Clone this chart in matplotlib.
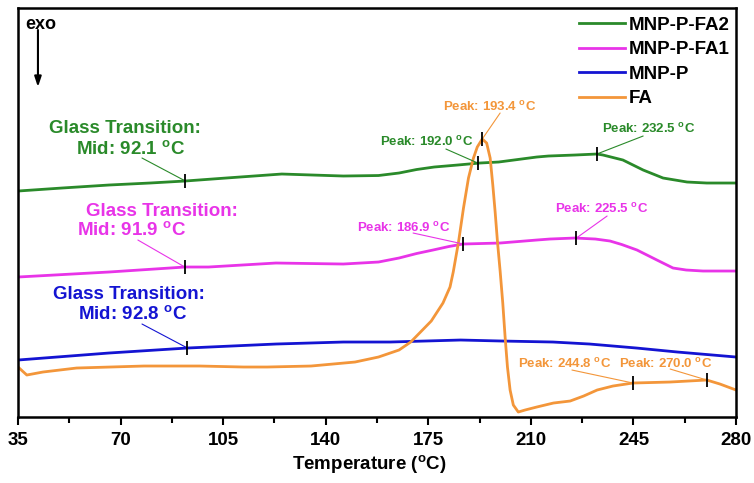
import matplotlib
matplotlib.use('Agg')
import matplotlib.pyplot as plt
import numpy as np

plt.rcParams['font.family'] = ['Liberation Sans', 'DejaVu Sans']
plt.rcParams['font.weight'] = 'bold'
plt.rcParams['mathtext.fontset'] = 'custom'
plt.rcParams['mathtext.rm'] = 'Liberation Sans:bold'
plt.rcParams['mathtext.bf'] = 'Liberation Sans:bold'

# heat flow in arbitrary units (exo down)
t_fa2 = [35, 50, 66, 80, 92, 106, 125, 146, 158, 165, 171, 177, 185, 192.6, 199, 212, 216, 225,
         232.5, 234.6, 241.4, 248.3, 255.1, 263.3, 270, 280]
hf_fa2 = [226, 229, 232, 234, 236, 239, 243, 241, 241.5, 244, 247.5, 250, 252, 254, 255, 260, 261,
          262, 263, 262, 257, 247, 239, 235, 234, 234]

t_fa1 = [35, 66, 92, 100, 123, 146, 158, 165, 171, 176.6, 182, 186.8, 199.5, 212, 216.5, 225,
         232, 237, 241, 246.2, 253, 258.5, 263, 268.7, 280]
hf_fa1 = [140, 145, 150, 150, 154, 153, 155, 159, 163.5, 167, 170.5, 173, 174, 177, 178, 179,
          178, 176, 172.5, 167, 157, 149, 147, 146, 146]

t_p = [35, 66, 92.8, 123, 146, 162, 186, 200, 217.5, 230, 246, 260, 280]
hf_p = [57, 64, 69, 73, 75, 75, 77, 76, 75, 73, 69, 65, 60]

t_fa = [35, 38, 43.5, 55, 78, 97, 112, 120, 135, 142.5, 150, 158, 165, 169, 172, 176, 180, 182.4,
        183.5, 185.3, 187.0, 188.7, 190.4, 191.7, 193.4, 194.9, 196.1, 197.0, 197.8, 198.6,
        199.5, 200.4, 201.2, 202.0, 202.9, 204.0, 205.7, 208.0, 212.0, 217.7, 223.4, 228, 232.6,
        238, 244.8, 257.5, 270, 274.5, 280]
hf_fa = [50, 42, 45, 49, 51, 51, 50, 50, 51, 53, 55, 60, 67, 75, 84, 96, 114, 130,
         145, 175, 209, 239, 259, 270, 278, 274, 259, 232, 205, 175,
         146, 114, 80, 50, 27, 12, 5, 7, 10, 14, 16, 21, 27,
         31, 34, 35, 37, 33, 27]

series = [
    ('MNP-P-FA2', t_fa2, hf_fa2, '#2a8a2a'),
    ('MNP-P-FA1', t_fa1, hf_fa1, '#e834e8'),
    ('MNP-P', t_p, hf_p, '#1414d2'),
    ('FA', t_fa, hf_fa, '#f3963a'),
]

# marked points: (series index, temperature)
marks = [(0, 92.1), (0, 192.0), (0, 232.5),
         (1, 91.9), (1, 186.9), (1, 225.5),
         (2, 92.8),
         (3, 193.4), (3, 244.8), (3, 270.0)]

deg = r'$^{\mathbf{o}}$C'

fig = plt.figure(figsize=(7.54, 4.83), dpi=100)
ax = fig.add_axes([0.0239, 0.1366, 0.9523, 0.8468])

for name, t, hf, c in series:
    ax.plot(t, hf, color=c, lw=2.0, label=name)

tick_xy = {}
for i, tm in marks:
    _, t, hf, c = series[i]
    y = np.interp(tm, t, hf)
    tick_xy[(i, tm)] = (tm, y)
    ax.plot(tm, y, marker='|', color='k', ms=10, mew=1.3, zorder=5)

green, magenta, blue, orange = [s[3] for s in series]

# glass transition labels
gt = [(green, (45.6, 289), (54.8, 267), 'Mid: 92.1 ' + deg, (77.3, 259), (0, 92.1)),
      (magenta, (58.2, 206), (55.1, 186), 'Mid: 91.9 ' + deg, (75.9, 177), (1, 91.9)),
      (blue, (46.9, 123), (55.5, 102), 'Mid: 92.8 ' + deg, (77.3, 93), (2, 92.8))]
for c, p1, p2, s2, ls, key in gt:
    ax.text(p1[0], p1[1], 'Glass Transition:', color=c, fontsize=13.5, fontweight='bold',
            ha='left', va='center')
    ax.text(p2[0], p2[1], s2, color=c, fontsize=13.5, fontweight='bold',
            ha='left', va='center')
    ax.annotate('', xy=tick_xy[key], xytext=ls,
                arrowprops=dict(arrowstyle='-', color=c, lw=0.8, shrinkA=0, shrinkB=0))

# peak labels
pk = [(green, (158.5, 275), 'Peak: 192.0 ', (181.0, 268), (0, 192.0)),
      (orange, (180.0, 310), 'Peak: 193.4 ', (199.5, 304), (3, 193.4)),
      (green, (234.3, 288), 'Peak: 232.5 ', (248.3, 281), (0, 232.5)),
      (magenta, (150.7, 189), 'Peak: 186.9 ', (169.8, 184), (1, 186.9)),
      (magenta, (218.2, 208), 'Peak: 225.5 ', (236.0, 201), (1, 225.5)),
      (orange, (205.6, 53), 'Peak: 244.8 ', (224.0, 47), (3, 244.8)),
      (orange, (239.9, 53), 'Peak: 270.0 ', (257.5, 48), (3, 270.0))]
for c, p, s, ls, key in pk:
    ax.text(p[0], p[1], s + deg, color=c, fontsize=9.5, fontweight='bold',
            ha='left', va='center')
    ax.annotate('', xy=tick_xy[key], xytext=ls,
                arrowprops=dict(arrowstyle='-', color=c, lw=0.8, shrinkA=0, shrinkB=0))

# exo arrow
ax.text(37.4, 393, 'exo', fontsize=13, fontweight='bold', ha='left', va='center')
ax.annotate('', xy=(41.8, 330), xytext=(41.8, 387),
            arrowprops=dict(arrowstyle='-|>,head_length=0.6,head_width=0.2', color='k', lw=1.5,
                            shrinkA=0, shrinkB=0))

ax.set_xlim(35, 280)
ax.set_ylim(0, 409)
ax.set_xticks(np.arange(35, 281, 35))
ax.set_xticks(np.arange(52.5, 281, 35), minor=True)
ax.set_yticks([])
ax.tick_params(axis='x', which='major', direction='out', length=6, width=1.5, labelsize=13.5, pad=5)
ax.tick_params(axis='x', which='minor', direction='out', length=4, width=1.5)
for lab in ax.get_xticklabels():
    lab.set_fontweight('bold')
for sp in ax.spines.values():
    sp.set_linewidth(1.8)
ax.set_xlabel('Temperature (' + deg + ')', fontsize=13.5, fontweight='bold', labelpad=3)
ax.xaxis.label.set_x(0.4896)

leg = ax.legend(loc='upper right', bbox_to_anchor=(0.9916, 0.9793), frameon=False,
                prop={'size': 13.5, 'weight': 'bold'}, handlelength=2.45, handletextpad=0.2,
                labelspacing=0.4, borderpad=0, borderaxespad=0)

fig.savefig('out.png', dpi=100)
